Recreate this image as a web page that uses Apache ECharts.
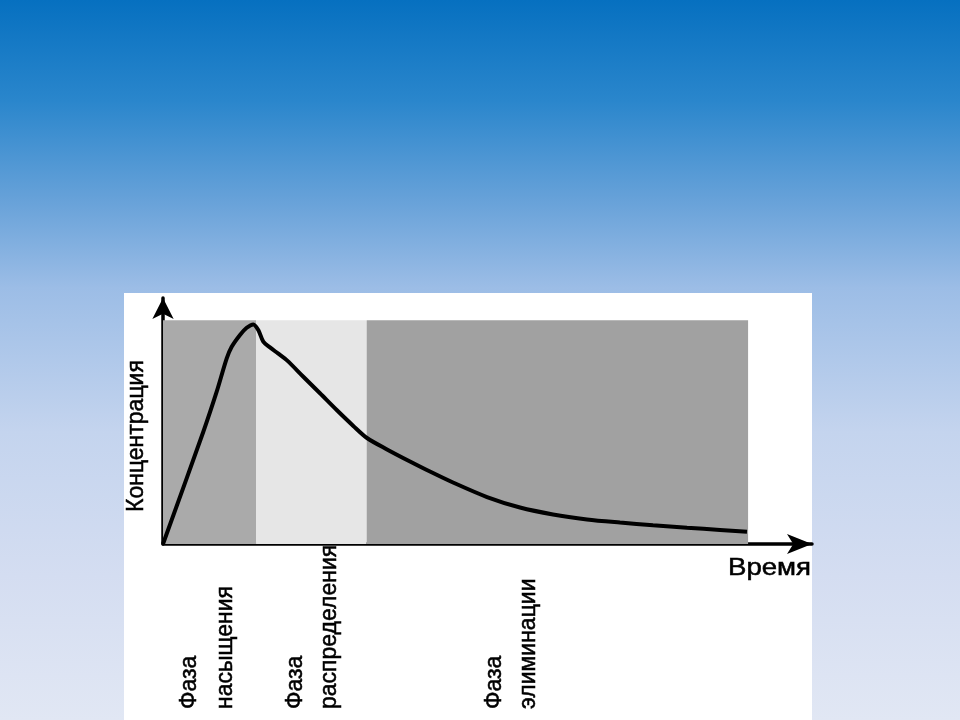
<!DOCTYPE html>
<html>
<head>
<meta charset="utf-8">
<script src="https://cdn.jsdelivr.net/npm/echarts@6/dist/echarts.min.js"></script>
<style>
html,body{margin:0;padding:0;width:960px;height:720px;overflow:hidden;}
#c{width:960px;height:720px;}
</style>
</head>
<body>
<div id="c"></div>
<script>
// ---- data ----
var timeX = [0, 8.20, 10.92, 12.96, 13.97, 15.66, 17.02, 18.37, 19.38, 20.40, 21.76, 23.39, 25.22, 28.54, 31.93, 35.33, 38.71, 41.49, 45.56, 50.24, 54.30, 58.98, 65.90, 72.61, 79.32, 86.24, 92.95, 99.66, 106.58, 113.29, 118.78];
var concentration = [0, 50.2, 68.1, 83.0, 88.2, 93.5, 96.7, 98.2, 95.7, 90.5, 87.9, 85.2, 82.1, 74.8, 67.4, 59.9, 52.8, 47.4, 42.3, 36.9, 32.4, 27.5, 21.0, 16.3, 13.2, 11.0, 9.6, 8.4, 7.3, 6.3, 5.5];
var phaseBounds = [0, 18.92, 41.43, 119.0];
var phaseTop = [100, 100, 100];
var phaseLines = [["Фаза", "насыщения"], ["Фаза", "распределения"], ["Фаза", "элиминации"]];
var yAxisTitle = "Концентрация";
var xAxisTitle = "Время";

// ---- chart ----
var chart = echarts.init(document.getElementById('c'), null, {renderer: 'canvas'});
var phaseColors = ['#aaaaaa', '#e6e6e6', '#a1a1a1'];
var areaData = [];
for (var i = 0; i < phaseColors.length; i++) {
  areaData.push([
    {xAxis: phaseBounds[i], yAxis: 0, itemStyle: {color: phaseColors[i], opacity: 1}},
    {xAxis: phaseBounds[i + 1], yAxis: phaseTop[i]}
  ]);
}
var lineData = timeX.map(function (x, k) { return [x, concentration[k]]; });

var font = '"Liberation Sans", Arial, sans-serif';
var textStyle = function (t) {
  return {text: t, fill: '#000', stroke: '#000', lineWidth: 0.5, font: '23px ' + font, textAlign: 'left', textVerticalAlign: 'middle'};
};
var graphics = [
  {type: 'rect', z: -1, shape: {x: 124, y: 293, width: 688, height: 427}, style: {fill: '#ffffff'}}
];
var labelX = [[189, 225], [295, 329], [494, 528]];
var labelBottom = 709;
for (var p = 0; p < phaseLines.length; p++) {
  for (var l = 0; l < phaseLines[p].length; l++) {
    graphics.push({
      type: 'text', z: 10, x: labelX[p][l], y: labelBottom, rotation: Math.PI / 2, scaleY: 1.08,
      style: textStyle(phaseLines[p][l])
    });
  }
}
graphics.push({
  type: 'text', z: 10, x: 136, y: 512, rotation: Math.PI / 2, scaleY: 1.08,
  style: textStyle(yAxisTitle)
});
graphics.push({
  type: 'text', z: 10, x: 728, y: 569, scaleX: 1.2,
  style: textStyle(xAxisTitle)
});

chart.setOption({
  animation: false,
  backgroundColor: {
    type: 'linear', x: 0, y: 0, x2: 0, y2: 1,
    colorStops: [
      {offset: 0, color: '#0670c0'},
      {offset: 0.14, color: '#2a86cc'},
      {offset: 0.28, color: '#68a2d9'},
      {offset: 0.40, color: '#9cbde6'},
      {offset: 0.60, color: '#c4d4ee'},
      {offset: 0.80, color: '#d4ddf1'},
      {offset: 1, color: '#e1e7f4'}
    ]
  },
  grid: {left: 163, right: 148, top: 298, bottom: 176, outerBoundsMode: 'none', containLabel: false},
  xAxis: {
    type: 'value', min: 0, max: 132,
    axisLine: {show: true, onZero: false, symbol: ['none', 'arrow'], symbolSize: [15, 25], lineStyle: {color: '#000', width: 3.5}},
    axisTick: {show: false}, axisLabel: {show: false}, splitLine: {show: false}
  },
  yAxis: {
    type: 'value', min: 0, max: 110,
    axisLine: {show: true, onZero: false, symbol: ['none', 'arrow'], symbolSize: [16, 21], lineStyle: {color: '#000', width: 3.5}},
    axisTick: {show: false}, axisLabel: {show: false}, splitLine: {show: false}
  },
  graphic: graphics,
  series: [{
    type: 'line',
    data: lineData,
    smooth: 0.3,
    showSymbol: false,
    symbol: 'none',
    lineStyle: {color: '#000', width: 4},
    markArea: {silent: true, data: areaData}
  }]
});
</script>
</body>
</html>
